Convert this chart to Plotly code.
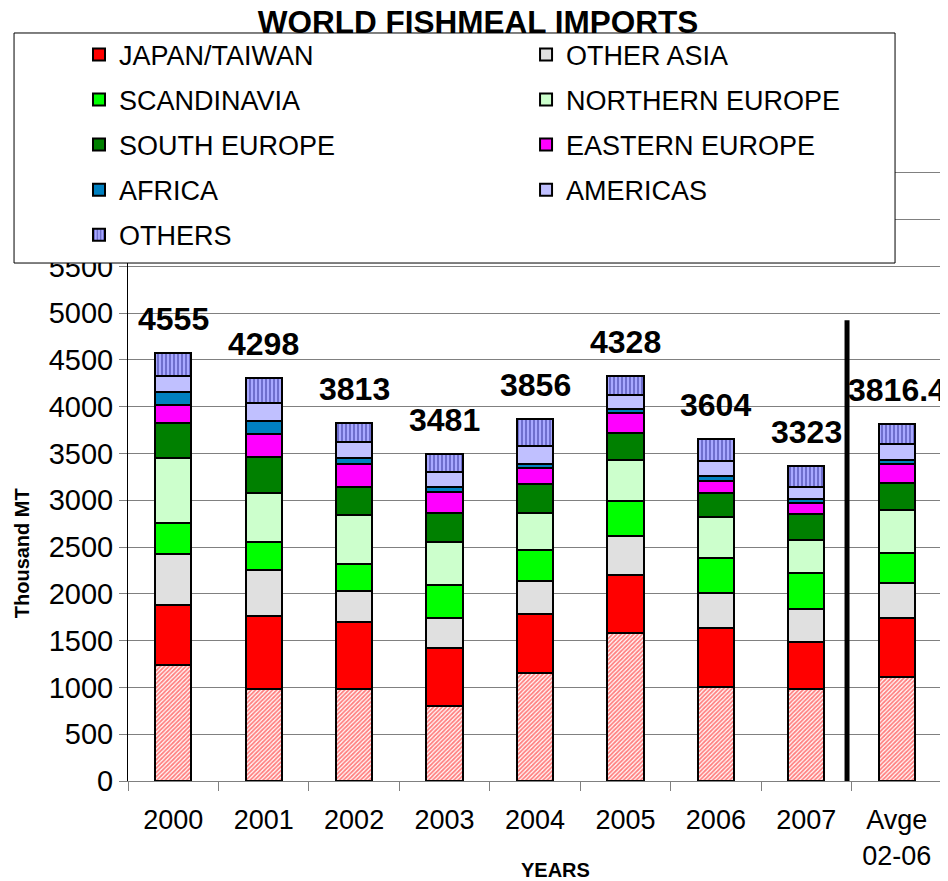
import plotly.graph_objects as go

# ---------------- data ----------------
YEARS = ["2000", "2001", "2002", "2003", "2004", "2005", "2006", "2007", "Avge<br>02-06"]

CHINA          = [1245, 984, 981, 802, 1155, 1587, 1006, 982, 1114]
JAPAN_TAIWAN   = [631, 781, 720, 621, 635, 613, 631, 499, 630]
OTHER_ASIA     = [549, 489, 332, 321, 350, 421, 374, 352, 367]
SCANDINAVIA    = [328, 303, 281, 356, 328, 371, 368, 391, 330]
NORTHERN_EUROPE = [702, 524, 528, 457, 392, 438, 445, 349, 460]
SOUTH_EUROPE   = [368, 378, 303, 303, 310, 286, 250, 285, 284]
EASTERN_EUROPE = [196, 253, 243, 225, 171, 217, 135, 114, 200]
AFRICA         = [135, 136, 67, 60, 47, 43, 50, 39, 42]
AMERICAS       = [175, 196, 172, 154, 192, 150, 164, 132, 171]
OTHERS         = [243, 267, 203, 196, 289, 203, 229, 220, 221]

TOTAL_LABELS = ["4555", "4298", "3813", "3481", "3856", "4328", "3604", "3323", "3816.4"]

DIVIDER_X = 7.45      # category-axis position of the separator line
DIVIDER_TOP = 4925    # height of the separator line (Thousand MT)

FONT = "Liberation Sans, Arial, sans-serif"

# ---------------- series definitions ----------------
series = [
    ("CHINA", CHINA, "white", dict(shape="/", fgcolor="#FF0000", bgcolor="white", size=3, solidity=0.6), "legend", False),
    ("JAPAN/TAIWAN", JAPAN_TAIWAN, "#FF0000", None, "legend", True),
    ("OTHER ASIA", OTHER_ASIA, "#E0E0E0", None, "legend2", True),
    ("SCANDINAVIA", SCANDINAVIA, "#00FF00", None, "legend", True),
    ("NORTHERN EUROPE", NORTHERN_EUROPE, "#CCFFCC", None, "legend2", True),
    ("SOUTH EUROPE", SOUTH_EUROPE, "#008000", None, "legend", True),
    ("EASTERN EUROPE", EASTERN_EUROPE, "#FF00FF", None, "legend2", True),
    ("AFRICA", AFRICA, "#0080C0", None, "legend", True),
    ("AMERICAS", AMERICAS, "#C0C0FF", None, "legend2", True),
    ("OTHERS", OTHERS, "#9999FF", dict(shape="|", fgcolor="#333399", bgcolor="#A8A8FF", size=4, solidity=0.5), "legend", True),
]

fig = go.Figure()
for name, vals, color, pattern, leg, show in series:
    marker = dict(color=color, line=dict(color="black", width=2))
    if pattern:
        marker["pattern"] = pattern
    fig.add_trace(go.Bar(
        x=YEARS, y=vals, name=name, marker=marker,
        legend=leg, legendgroup=name, showlegend=show,
    ))

totals = [sum(v) for v in zip(CHINA, JAPAN_TAIWAN, OTHER_ASIA, SCANDINAVIA, NORTHERN_EUROPE,
                               SOUTH_EUROPE, EASTERN_EUROPE, AFRICA, AMERICAS, OTHERS)]

annotations = []
for i, (tot, lab) in enumerate(zip(totals, TOTAL_LABELS)):
    annotations.append(dict(
        x=i, y=tot, xref="x", yref="y", text=lab, showarrow=False,
        yanchor="middle", yshift=34,
        font=dict(family=FONT, size=32, color="black", weight="bold"),
    ))

# axis titles
annotations.append(dict(
    x=0.5246, y=-0.136, xref="paper", yref="paper", text="YEARS", showarrow=False,
    xanchor="center", yanchor="middle",
    font=dict(family=FONT, size=20, color="black", weight="bold"),
))
annotations.append(dict(
    x=-0.130, y=0.348, xref="paper", yref="paper", text="Thousand MT", showarrow=False,
    xanchor="center", yanchor="middle", textangle=-90,
    font=dict(family=FONT, size=20, color="black", weight="bold"),
))

shapes = [
    # legend box
    dict(type="rect", xref="paper", yref="paper", x0=-0.14, x1=0.9423, y0=0.7908, y1=1.142,
         fillcolor="white", line=dict(color="black", width=1), layer="above"),
    # separator line
    dict(type="line", xref="x", yref="y", x0=DIVIDER_X, x1=DIVIDER_X, y0=0, y1=DIVIDER_TOP,
         line=dict(color="black", width=5), layer="above"),
]

legend_common = dict(
    orientation="v", traceorder="grouped", tracegroupgap=7,
    bgcolor="rgba(0,0,0,0)", borderwidth=0,
    font=dict(family=FONT, size=27, color="black"),
    xanchor="left", yanchor="top",
)

# page body has an 8px margin, so the figure is 8px smaller than the window
fig.update_layout(
    width=940, height=873,
    margin=dict(l=120, r=6, t=118, b=100, autoexpand=False),
    paper_bgcolor="white", plot_bgcolor="white",
    barmode="stack", bargap=0.6,
    title=dict(text="<b>WORLD FISHMEAL IMPORTS</b>", x=0.5, xanchor="center",
               y=1 - 14 / 873, yanchor="middle", yref="container",
               font=dict(family=FONT, size=31.5, color="black")),
    font=dict(family=FONT, color="black"),
    xaxis=dict(
        type="category", range=[-0.5, 8.5], autorange=False,
        showline=True, linecolor="#808080", linewidth=1,
        ticks="outside", ticklen=9, tickcolor="#808080", tickson="boundaries",
        tickfont=dict(family=FONT, size=27, color="black"), ticklabelstandoff=15,
        tickangle=0, showgrid=False,
    ),
    yaxis=dict(
        range=[0, 7000], autorange=False, dtick=500, tick0=0,
        showline=True, linecolor="black", linewidth=1,
        ticks="outside", ticklen=8, tickcolor="#808080",
        showgrid=True, gridcolor="#808080", gridwidth=1,
        tickfont=dict(family=FONT, size=29, color="black"),
        zeroline=False,
    ),
    legend=dict(x=-0.0602, y=1.146, **legend_common),
    legend2=dict(x=0.489, y=1.146, **legend_common),
    annotations=annotations,
    shapes=shapes,
)

fig.write_html("out.html")
